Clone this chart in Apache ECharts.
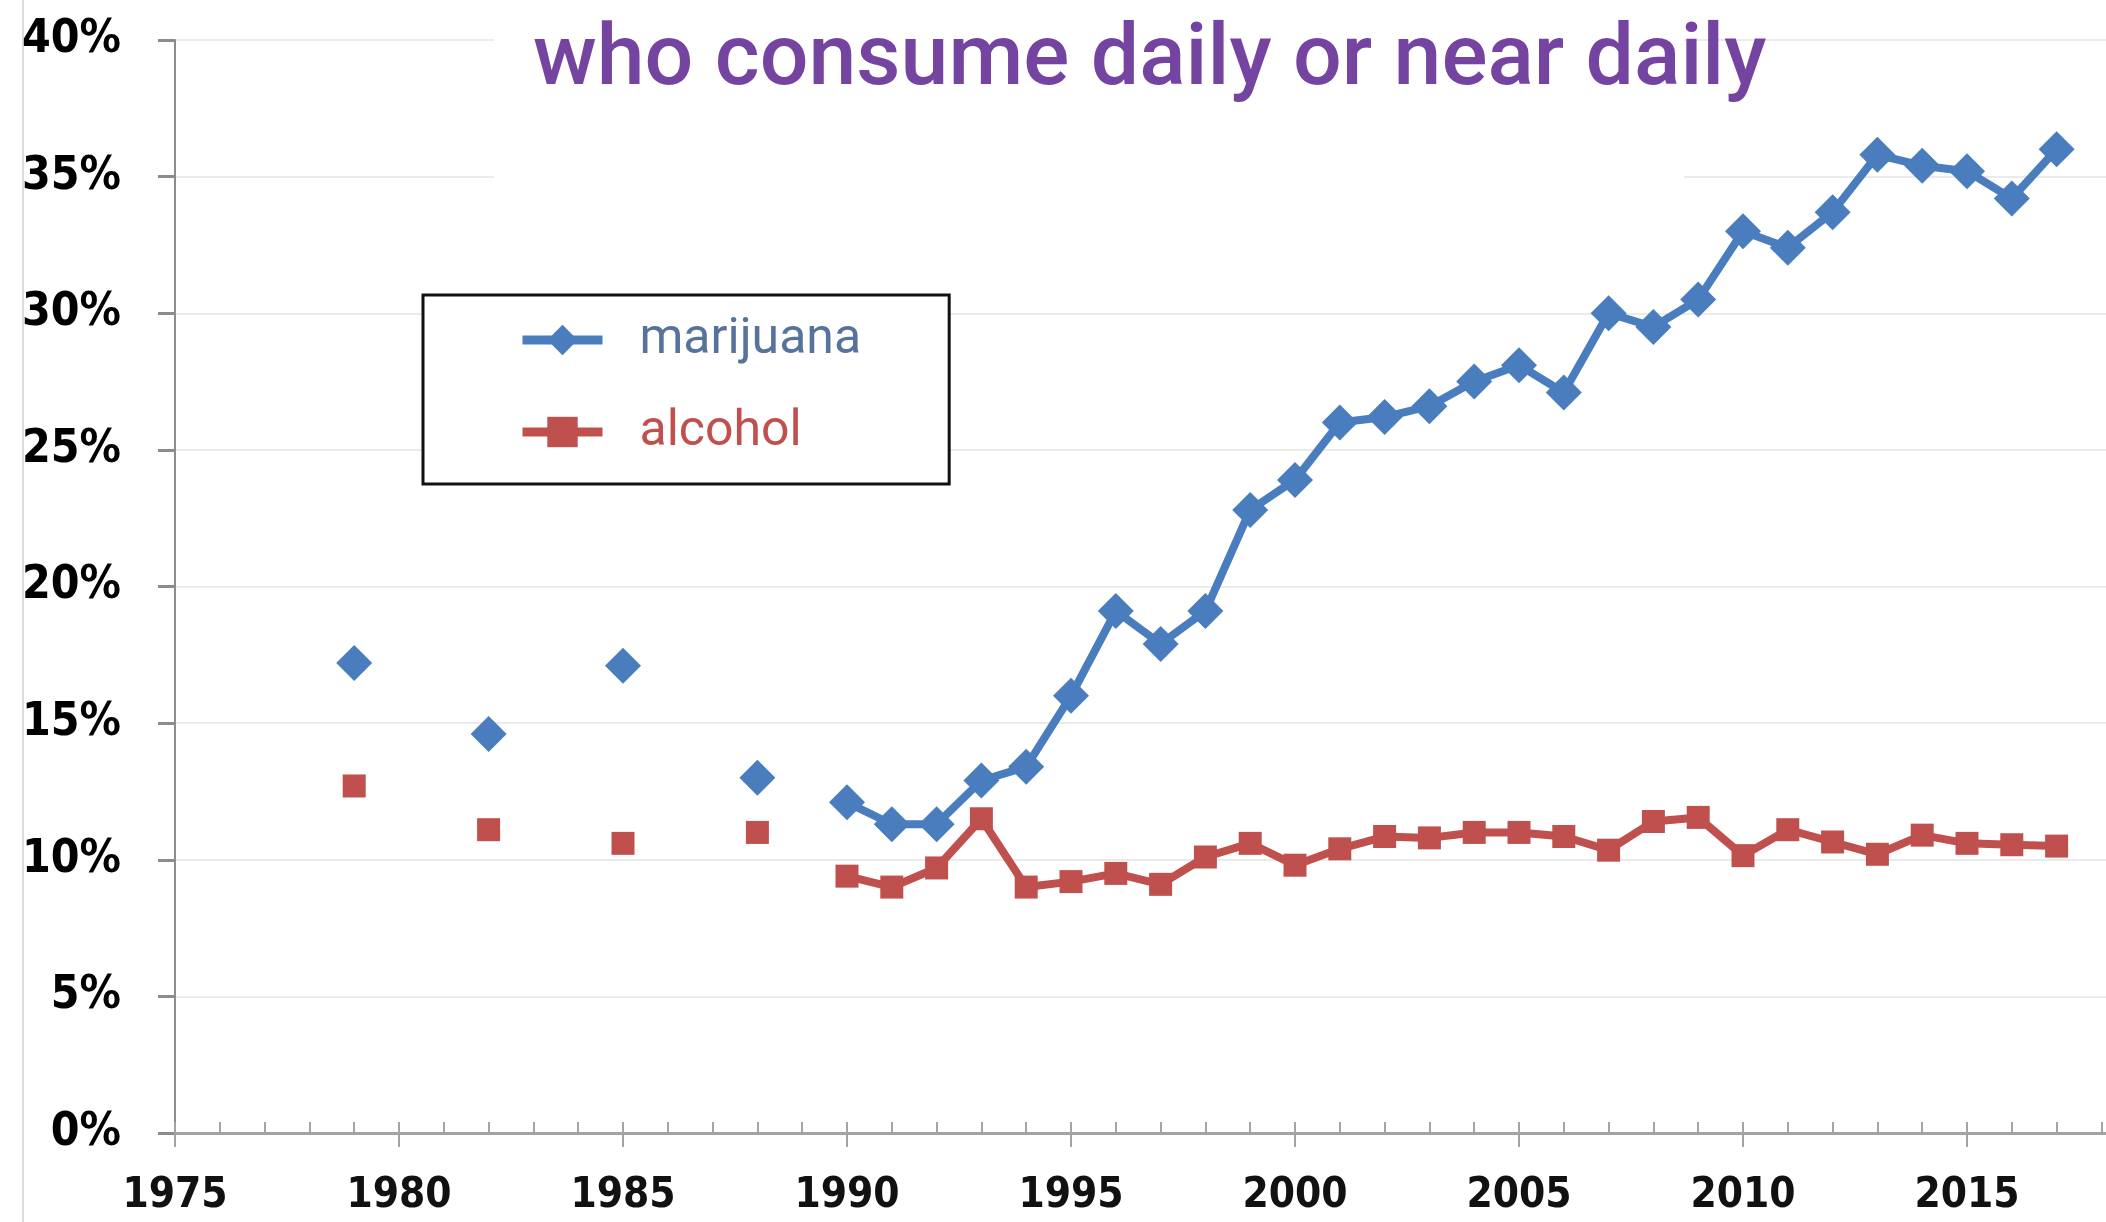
<!DOCTYPE html>
<html>
<head>
<meta charset="utf-8">
<style>
  html, body { margin: 0; padding: 0; background: #fff; }
  #chart { width: 2106px; height: 1222px; }
</style>
<script src="https://cdn.jsdelivr.net/npm/echarts@6/dist/echarts.min.js"></script>
</head>
<body>
<div id="chart"></div>
<script>
// survey years (gap before 1990: only every 3 years)
const years = [1979, 1982, 1985, 1988,
  1990, 1991, 1992, 1993, 1994, 1995, 1996, 1997, 1998, 1999,
  2000, 2001, 2002, 2003, 2004, 2005, 2006, 2007, 2008, 2009,
  2010, 2011, 2012, 2013, 2014, 2015, 2016, 2017]

const marijuana = [17.2, 14.6, 17.1, 13.0,
  12.1, 11.3, 11.3, 12.9, 13.4, 16.0, 19.1, 17.9, 19.1, 22.8,
  23.9, 26.0, 26.2, 26.6, 27.5, 28.1, 27.1, 30.0, 29.5, 30.5,
  33.0, 32.4, 33.7, 35.8, 35.4, 35.2, 34.2, 36.0]

const alcohol = [12.7, 11.1, 10.6, 11.0,
  9.4, 9.0, 9.7, 11.5, 9.0, 9.2, 9.5, 9.1, 10.1, 10.6,
  9.8, 10.4, 10.85, 10.8, 11.0, 11.0, 10.85, 10.35, 11.4, 11.55,
  10.15, 11.1, 10.65, 10.2, 10.9, 10.6, 10.55, 10.5]

const yTicks = [0, 5, 10, 15, 20, 25, 30, 35, 40]

const titleText = 'who consume daily or near daily'
const labelFont = '"Liberation Sans Narrow", "DejaVu Sans Condensed", Arial, sans-serif'

const blue = '#4A7DBE'
const red = '#C0504D'

// break the line where years are skipped
function toPairs(vals) {
  const out = []
  years.forEach((y, i) => {
    if (i > 0 && y - years[i - 1] > 1) out.push([y - 1, '-'])
    out.push([y, vals[i]])
  })
  return out
}

const chart = echarts.init(document.getElementById('chart'))

chart.setOption({
  backgroundColor: '#fff',
  animation: false,
  title: {
    text: titleText,
    left: 533,
    top: 19,
    padding: 0,
    textStyle: {
      color: '#7444A0',
      fontFamily: 'Roboto',
      fontWeight: 500,
      fontSize: 86,
      lineHeight: 86
    }
  },
  graphic: [
    {
      type: 'line',
      shape: { x1: 23, y1: 0, x2: 23, y2: 1222 },
      style: { stroke: '#dcdcdc', lineWidth: 2 }
    },
    {
      // white box behind the title hides the grid lines
      type: 'rect',
      z: 1,
      shape: { x: 494, y: 0, width: 1190, height: 184 },
      style: { fill: '#fff' }
    }
  ],
  legend: {
    left: 423,
    top: 295,
    orient: 'vertical',
    backgroundColor: '#fff',
    borderColor: '#111',
    borderWidth: 3,
    borderRadius: 0,
    padding: [20, 88, 27, 95],
    itemWidth: 80,
    itemHeight: 38,
    itemGap: 42,
    textStyle: {
      fontFamily: 'Roboto',
      fontSize: 50,
      lineHeight: 36,
      padding: [0, 0, 0, 32]
    },
    data: [
      { name: 'marijuana', lineStyle: { width: 9, color: blue }, textStyle: { color: '#57739C' } },
      { name: 'alcohol', lineStyle: { width: 9, color: red }, textStyle: { color: red } }
    ]
  },
  grid: {
    left: 175,
    right: -85,
    top: 40,
    bottom: 89,
    containLabel: false,
    outerBoundsMode: 'none'
  },
  xAxis: [
    {
      type: 'value',
      min: 1975,
      max: 2020,
      interval: 5,
      axisLine: { show: true, lineStyle: { color: '#a3a3a3', width: 3 } },
      axisTick: { show: true, inside: false, length: 14, lineStyle: { color: '#a3a3a3', width: 2 } },
      axisLabel: {
        margin: 42,
        color: '#111',
        fontFamily: labelFont,
        fontWeight: 'bold',
        fontSize: 42,
        formatter: v => String(v)
      },
      splitLine: { show: false }
    },
    {
      // yearly minor ticks pointing up
      type: 'value',
      position: 'bottom',
      min: 1975,
      max: 2020,
      interval: 1,
      axisLine: { show: false },
      axisTick: { show: true, inside: true, length: 11, lineStyle: { color: '#a3a3a3', width: 2 } },
      axisLabel: { show: false },
      splitLine: { show: false }
    }
  ],
  yAxis: {
    type: 'value',
    min: yTicks[0],
    max: yTicks[yTicks.length - 1],
    interval: 5,
    axisLine: { show: true, lineStyle: { color: '#8c8c8c', width: 2 } },
    axisTick: { show: true, length: 17, lineStyle: { color: '#8c8c8c', width: 3 } },
    axisLabel: {
      margin: 54,
      color: '#000',
      fontFamily: labelFont,
      fontWeight: 'bold',
      fontSize: 46,
      formatter: v => v + '%'
    },
    splitLine: { show: true, lineStyle: { color: '#ebebeb', width: 2 } }
  },
  series: [
    {
      name: 'marijuana',
      type: 'line',
      data: toPairs(marijuana),
      connectNulls: false,
      showAllSymbol: true,
      symbol: 'diamond',
      symbolSize: 36,
      lineStyle: { color: blue, width: 8 },
      itemStyle: { color: blue },
      z: 3
    },
    {
      name: 'alcohol',
      type: 'line',
      data: toPairs(alcohol),
      connectNulls: false,
      showAllSymbol: true,
      symbol: 'rect',
      symbolSize: 23,
      lineStyle: { color: red, width: 8 },
      itemStyle: { color: red },
      z: 2
    }
  ]
})
</script>
</body>
</html>
